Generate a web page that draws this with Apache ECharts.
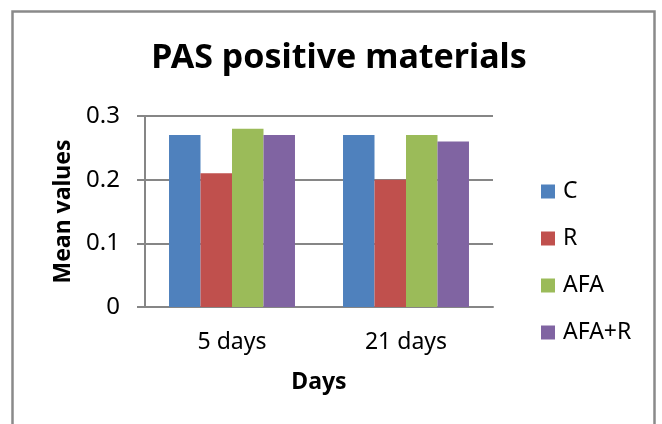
<!DOCTYPE html>
<html>
<head>
<meta charset="utf-8">
<style>
  html, body { margin: 0; padding: 0; background: #ffffff; }
  #chart { width: 662px; height: 424px; }
</style>
<script src="https://cdn.jsdelivr.net/npm/echarts@6/dist/echarts.min.js"></script>
</head>
<body>
<div id="chart"></div>
<script>
// Sampling times on the category axis
const categories = ['5 days', '21 days'];

// Mean PAS-positive values per group
const seriesNames = ['C', 'R', 'AFA', 'AFA+R'];
const valuesC = [0.27, 0.27];
const valuesR = [0.21, 0.20];
const valuesAFA = [0.28, 0.27];
const valuesAFAR = [0.27, 0.26];

// Value axis ticks
const yTicks = [0, 0.1, 0.2, 0.3];

const colors = ['#4F81BD', '#C0504D', '#9BBB59', '#8064A2'];
const seriesValues = [valuesC, valuesR, valuesAFA, valuesAFAR];

const FONT = '"Noto Sans", "Open Sans", sans-serif';
const GRAY = '#868686';

const chart = echarts.init(document.getElementById('chart'), null, { renderer: 'canvas' });

chart.setOption({
  animation: false,
  backgroundColor: '#ffffff',
  textStyle: { fontFamily: FONT, color: '#000000' },
  title: {
    text: 'PAS positive materials',
    left: 334,
    top: 36,
    textAlign: 'center',
    textStyle: { fontFamily: FONT, fontSize: 34, fontWeight: 'bold', color: '#000000' }
  },
  graphic: [{
    type: 'rect',
    shape: { x: 12.5, y: 11.5, width: 642, height: 520 },
    style: { fill: 'none', stroke: '#8a8a8a', lineWidth: 2.5 },
    silent: true
  }],
  legend: {
    orient: 'vertical',
    left: 536,
    top: 175,
    itemWidth: 14,
    itemHeight: 14,
    itemGap: 24,
    icon: 'rect',
    data: seriesNames,
    textStyle: { fontFamily: FONT, fontSize: 23, color: '#000000', padding: [0, 0, 0, 3] }
  },
  grid: { left: 145, right: 169, top: 116, bottom: 117, containLabel: false },
  xAxis: {
    type: 'category',
    data: categories,
    name: 'Days',
    nameLocation: 'middle',
    nameGap: 64,
    nameTextStyle: { fontFamily: FONT, fontSize: 23, fontWeight: 'bold', color: '#000000' },
    axisLine: { show: true, lineStyle: { color: GRAY, width: 2 } },
    axisTick: { show: false },
    axisLabel: { fontFamily: FONT, fontSize: 23, color: '#000000', margin: 24 },
    splitLine: { show: false }
  },
  yAxis: {
    type: 'value',
    min: yTicks[0],
    max: yTicks[yTicks.length - 1],
    interval: yTicks[1] - yTicks[0],
    name: 'Mean values',
    nameLocation: 'middle',
    nameGap: 70,
    nameRotate: 90,
    nameTextStyle: { fontFamily: FONT, fontSize: 23, fontWeight: 'bold', color: '#000000' },
    axisLine: { show: true, lineStyle: { color: GRAY, width: 2 } },
    axisTick: { show: true, length: 8, inside: false, lineStyle: { color: GRAY, width: 2 } },
    axisLabel: {
      fontFamily: FONT, fontSize: 24, color: '#000000', margin: 25,
      formatter: function (v) { return String(Math.round(v * 10) / 10); }
    },
    splitLine: { show: true, lineStyle: { color: GRAY, width: 2 } }
  },
  series: seriesNames.map(function (name, i) {
    return {
      name: name,
      type: 'bar',
      data: seriesValues[i],
      barGap: '0%',
      barCategoryGap: '27.6%',
      itemStyle: { color: colors[i] }
    };
  })
});
</script>
</body>
</html>
